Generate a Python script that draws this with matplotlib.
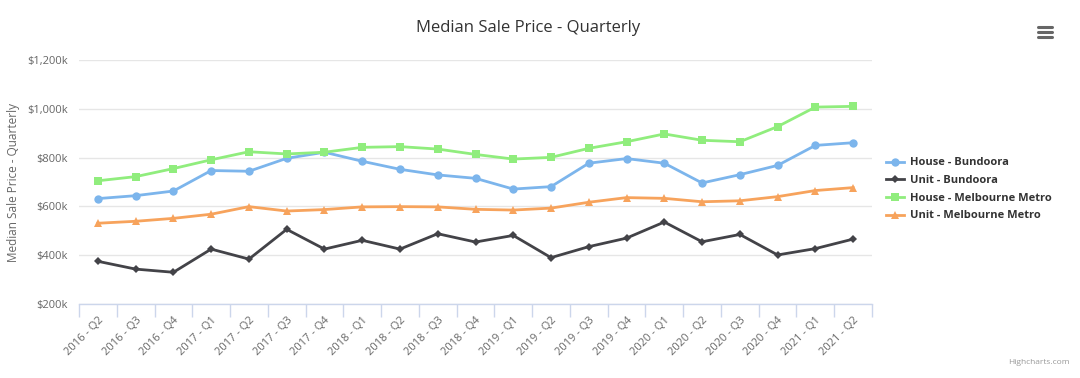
import matplotlib
matplotlib.use("Agg")
import matplotlib.pyplot as plt
from matplotlib.ticker import FuncFormatter, FixedLocator
from matplotlib.lines import Line2D

plt.rcParams['font.family'] = ['Open Sans', 'DejaVu Sans']

quarters = ["2016 - Q2", "2016 - Q3", "2016 - Q4", "2017 - Q1", "2017 - Q2", "2017 - Q3",
            "2017 - Q4", "2018 - Q1", "2018 - Q2", "2018 - Q3", "2018 - Q4", "2019 - Q1",
            "2019 - Q2", "2019 - Q3", "2019 - Q4", "2020 - Q1", "2020 - Q2", "2020 - Q3",
            "2020 - Q4", "2021 - Q1", "2021 - Q2"]

house_bundoora = [632, 644, 663, 747, 744, 797, 822, 785, 752, 729, 715, 671, 681,
                  777, 796, 777, 696, 730, 768, 850, 861]
unit_bundoora = [375, 343, 330, 425, 384, 506, 425, 461, 425, 488, 454, 481, 390,
                 435, 470, 536, 455, 485, 401, 427, 466]
house_melbourne = [705, 722, 755, 791, 824, 815, 822, 842, 845, 835, 813, 794, 801,
                   838, 865, 897, 871, 865, 927, 1007, 1010]
unit_melbourne = [531, 539, 551, 568, 599, 581, 587, 598, 599, 598, 588, 585, 593,
                  617, 636, 633, 619, 623, 640, 665, 677]

series_names = ["House - Bundoora", "Unit - Bundoora", "House - Melbourne Metro",
                "Unit - Melbourne Metro"]
y_ticks = [200, 400, 600, 800, 1000, 1200]

series = [house_bundoora, unit_bundoora, house_melbourne, unit_melbourne]
colors = ["#7cb5ec", "#434348", "#90ed7d", "#f7a35c"]
markers = ["o", "D", "s", "^"]
msizes = [6, 4.5, 6, 6]

fig = plt.figure(figsize=(10.8, 3.78), dpi=100)
ax = fig.add_axes([79/1080, 1 - 304/378, (872-79)/1080, (304-60)/378])

x = list(range(len(quarters)))
handles = []
for vals, c, m, ms, name in zip(series, colors, markers, msizes, series_names):
    ax.plot(x, vals, color=c, lw=2, marker=m, ms=ms, markeredgewidth=0, zorder=3)
    handles.append(Line2D([0], [0], color=c, lw=2, marker=m, ms=ms, markeredgewidth=0))

ax.set_xlim(-0.5, len(quarters) - 0.5)
ax.set_ylim(200, 1200)
ax.set_yticks(y_ticks)
ax.yaxis.set_major_formatter(FuncFormatter(lambda v, p: "${:,.0f}k".format(v)))
ax.grid(axis='y', color='#e6e6e6', lw=1)
ax.set_axisbelow(True)

for s in ['top', 'right', 'left']:
    ax.spines[s].set_visible(False)
ax.spines['bottom'].set_color('#ccd6eb')
ax.spines['bottom'].set_linewidth(1)

ax.set_xticks(x)
ax.set_xticklabels(quarters, rotation=45, ha='right', rotation_mode='anchor',
                   fontsize=8, color='#666666')
ax.tick_params(axis='x', length=0, pad=8)
ax.xaxis.set_minor_locator(FixedLocator([i - 0.5 for i in range(len(quarters) + 1)]))
ax.tick_params(axis='x', which='minor', length=9, color='#ccd6eb', width=1)
ax.tick_params(axis='y', length=0, labelsize=8, labelcolor='#666666', pad=8)

fig.text(14/1080, 1 - 182/378, "Median Sale Price - Quarterly", rotation=90,
         ha='center', va='center', fontsize=8.5, color='#666666')

fig.text(528/1080, 1 - 28/378, "Median Sale Price - Quarterly", ha='center', va='center',
         fontsize=12, color='#333333')

leg = fig.legend(handles, series_names, loc='upper left', bbox_to_anchor=(882/1080, 1 - 153/378),
                 frameon=False, prop={'weight': 'bold', 'size': 8}, handlelength=1.6,
                 handletextpad=0.5, labelspacing=0.6, borderaxespad=0)
for t in leg.get_texts():
    t.set_color('#333333')

# menu icon
for dy in (-5, 0, 5):
    fig.add_artist(Line2D([1038/1080, 1052/1080], [1 - (32 + dy)/378] * 2,
                          color='#666666', lw=2.2, solid_capstyle='round'))

fig.text(1070/1080, 1 - 363/378, "Highcharts.com", ha='right', va='center',
         fontsize=6, color='#999999')

fig.savefig("out.png", dpi=100, facecolor='white')
